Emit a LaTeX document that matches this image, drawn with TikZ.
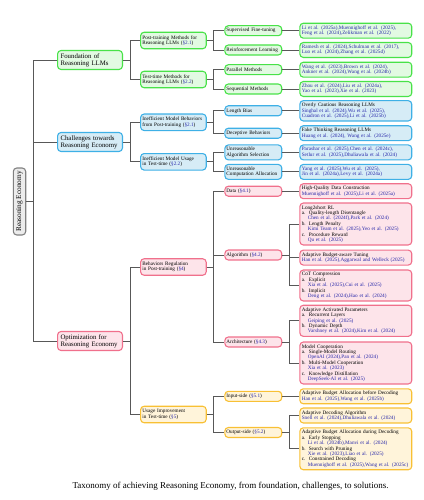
\documentclass[tikz,border=0pt]{standalone}
\usepackage{fontspec}
\setmainfont{Liberation Serif}
\usepackage[x11names]{xcolor}
\usepackage{tikz}

\definecolor{ecogreen}{RGB}{72,226,72}
\definecolor{ecogreenfill}{RGB}{226,250,226}
\definecolor{ecoblue}{RGB}{62,176,230}
\definecolor{ecobluefill}{RGB}{214,236,246}
\definecolor{ecored}{RGB}{240,112,140}
\definecolor{ecoredfill}{RGB}{253,228,234}
\definecolor{ecoyellow}{RGB}{248,192,52}
\definecolor{ecoyellowfill}{RGB}{255,244,218}
\definecolor{rootgray}{RGB}{128,128,128}
\definecolor{rootfill}{RGB}{236,236,236}
\definecolor{linkgray}{RGB}{88,88,88}
\definecolor{citeblue}{RGB}{40,40,170}

\newcommand{\bluecite}[1]{\textcolor{citeblue}{#1}}
\newcommand{\secnum}[1]{(\textcolor{citeblue}{§#1})}
\newcommand{\itm}[1]{\makebox[7pt][l]{#1}}
\newcommand{\ind}{\hspace*{6pt}}

\tikzset{
  tbox/.style={draw, rounded corners=3.5pt, line width=1.1pt, align=left, inner ysep=2.4pt},
  tinytext/.style={font=\fontsize{5.2}{5.4}\selectfont},
  lvlone/.style={tbox, text width=58.9pt, inner xsep=3pt, minimum height=19pt, font=\fontsize{6.8}{7}\selectfont},
  lvltwo/.style={tbox, tinytext, text width=62pt, inner xsep=1.8pt, minimum height=16.5pt},
  lvlthree/.style={tbox, tinytext, text width=53.7pt, inner xsep=1.6pt, minimum height=10pt},
  leaf/.style={tbox, tinytext, text width=107.9pt, inner xsep=2pt},
  found/.style={draw=ecogreen, fill=ecogreenfill},
  chall/.style={draw=ecoblue, fill=ecobluefill},
  optim/.style={draw=ecored, fill=ecoredfill},
  usage/.style={draw=ecoyellow, fill=ecoyellowfill},
  link/.style={draw=linkgray, line width=0.9pt},
}

\begin{document}
\begin{tikzpicture}[x=1pt,y=-1pt]
  \useasboundingbox (0,0) rectangle (423,500);

  % root
  \node[tbox, draw=rootgray, fill=rootfill, rotate=90, minimum width=67pt, minimum height=12.4pt, inner sep=1pt, font=\fontsize{7.3}{7.3}\selectfont] (R) at (19.5,201.5) {Reasoning Economy};

  % first level
  \node[lvlone, found] (A) at (90,60) {Foundation of\\ Reasoning LLMs};
  \node[lvlone, chall] (B) at (90,142) {Challenges towards\\ Reasoning Economy};
  \node[lvlone, optim] (C) at (90,341) {Optimization for\\ Reasoning Economy};

  % second level
  \node[lvltwo, found] (A1) at (173.4,40.5) {Post-training Methods for\\ Reasoning LLMs \secnum{2.1}};
  \node[lvltwo, found] (A2) at (173.4,79.5) {Test-time Methods for\\ Reasoning LLMs \secnum{2.2}};
  \node[lvltwo, chall] (B1) at (173.4,122.3) {Inefficient Model Behaviors\\ from Post-training \secnum{2.1}};
  \node[lvltwo, chall] (B2) at (173.4,161.8) {Inefficient Model Usage\\ in Test-time \secnum{2.2}};
  \node[lvltwo, optim] (C1) at (173.4,267) {Behaviors Regulation\\ in Post-training \secnum{4}};
  \node[lvltwo, usage] (C2) at (173.4,414.5) {Usage Improvement\\ in Test-time \secnum{5}};

  % third level
  \node[lvlthree, found] (A11) at (253.3,30.7) {Supervised Fine-tuning};
  \node[lvlthree, found] (A12) at (253.3,50) {Reinforcement Learning};
  \node[lvlthree, found] (A21) at (253.3,69.7) {Parallel Methods};
  \node[lvlthree, found] (A22) at (253.3,89) {Sequential Methods};
  \node[lvlthree, chall] (B11) at (253.3,110.8) {Length Bias};
  \node[lvlthree, chall] (B12) at (253.3,133.2) {Deceptive Behaviors};
  \node[lvlthree, chall] (B21) at (253.3,152.4) {Unreasonable\\ Algorithm Selection};
  \node[lvlthree, chall] (B22) at (253.3,171.9) {Unreasonable\\ Computation Allocation};
  \node[lvlthree, optim] (C11) at (253.3,191.2) {Data \secnum{4.1}};
  \node[lvlthree, optim] (C12) at (253.3,255) {Algorithm \secnum{4.2}};
  \node[lvlthree, optim] (C13) at (253.3,342) {Architecture \secnum{4.3}};
  \node[lvlthree, usage] (C21) at (253.3,396.3) {Input-side \secnum{5.1}};
  \node[lvlthree, usage] (C22) at (253.3,432.5) {Output-side \secnum{5.2}};

  % leaves
  \node[leaf, found] (A11c) at (355.8,30.7) {\bluecite{Li et al. (2025a),Muennighoff et al. (2025),\\ Feng et al. (2024),Zelikman et al. (2022)}};
  \node[leaf, found] (A12c) at (355.8,50) {\bluecite{Ramesh et al. (2024),Schulman et al. (2017),\\ Luo et al. (2024),Zhang et al. (2025d)}};
  \node[leaf, found] (A21c) at (355.8,69.7) {\bluecite{Wang et al. (2023),Brown et al. (2024),\\ Ankner et al. (2024),Wang et al. (2024b)}};
  \node[leaf, found] (A22c) at (355.8,89) {\bluecite{Zhou et al. (2024),Liu et al. (2024a),\\ Yao et al. (2023),Xie et al. (2023)}};
  \node[leaf, chall] (B11c) at (355.8,110.8) {Overly Cautious Reasoning LLMs\\ \bluecite{Singhal et al. (2024),Wu et al. (2025),\\ Cuadron et al. (2025),Li et al. (2025b)}};
  \node[leaf, chall] (B12c) at (355.8,133.2) {Fake Thinking Reasoning LLMs\\ \bluecite{Huang et al. (2024), Wang et al. (2025e)}};
  \node[leaf, chall] (B21c) at (355.8,152.4) {\bluecite{Parashar et al. (2025),Chen et al. (2024c),\\ Setlur et al. (2025),Dhuliawala et al. (2024)}};
  \node[leaf, chall] (B22c) at (355.8,171.9) {\bluecite{Yang et al. (2025),Wu et al. (2025),\\ Jin et al. (2024a),Levy et al. (2024a)}};
  \node[leaf, optim] (C11c) at (355.8,191.2) {High-Quality Data Construction\\ \bluecite{Muennighoff et al. (2025),Li et al. (2025a)}};
  \node[leaf, optim] (C12a) at (355.8,224) {Long2short RL\\
    \itm{a.}Quality-length Disentangle\\ \ind\bluecite{Chen et al. (2024f),Park et al. (2024)}\\
    \itm{b.}Length Penalty\\ \ind\bluecite{Kimi Team et al. (2025),Yeo et al. (2025)}\\
    \itm{c.}Procedure Reward\\ \ind\bluecite{Qu et al. (2025)}};
  \node[leaf, optim] (C12b) at (355.8,257.6) {Adaptive Budget-aware Tuning\\ \bluecite{Han et al. (2025),Aggarwal and Welleck (2025)}};
  \node[leaf, optim] (C12c) at (355.8,285.5) {CoT Compression\\
    \itm{a.}Explicit\\ \ind\bluecite{Xia et al. (2025),Cui et al. (2025)}\\
    \itm{b.}Implicit\\ \ind\bluecite{Deng et al. (2024),Hao et al. (2024)}};
  \node[leaf, optim] (C13a) at (355.8,320.8) {Adaptive Activated Parameters\\
    \itm{a.}Recurrent Layers\\ \ind\bluecite{Geiping et al. (2025)}\\
    \itm{b.}Dynamic Depth\\ \ind\bluecite{Varshney et al. (2024),Kim et al. (2024)}};
  \node[leaf, optim] (C13b) at (355.8,363) {Model Cooperation\\
    \itm{a.}Single-Model Routing\\ \ind\bluecite{OpenAI (2024),Pan et al. (2024)}\\
    \itm{b.}Multi-Model Cooperation\\ \ind\bluecite{Xia et al. (2023)}\\
    \itm{c.}Knowledge Distillation\\ \ind\bluecite{DeepSeek-AI et al. (2025)}};
  \node[leaf, usage] (C21c) at (355.8,396.3) {Adaptive Budget Allocation before Decoding\\ \bluecite{Han et al. (2025),Wang et al. (2025b)}};
  \node[leaf, usage] (C22a) at (355.8,415.5) {Adaptive Decoding Algorithm\\ \bluecite{Snell et al. (2024),Dhuliawala et al. (2024)}};
  \node[leaf, usage] (C22b) at (355.8,448.8) {Adaptive Budget Allocation during Decoding\\
    \itm{a.}Early Stopping\\ \ind\bluecite{Li et al. (2024b),Manvi et al. (2024)}\\
    \itm{b.}Search with Pruning\\ \ind\bluecite{Xie et al. (2023),Liao et al. (2025)}\\
    \itm{c.}Constrained Decoding\\ \ind\bluecite{Muennighoff et al. (2025),Wang et al. (2025c)}};

  % caption
  \node[font=\fontsize{9}{10}\selectfont] (cap) at (230.5,486) {Taxonomy of achieving Reasoning Economy, from foundation, challenges, to solutions.};

  % connectors
  \draw[link] (R.south) -- ++(7,0) |- (A.west);
  \draw[link] (R.south) -- ++(7,0) |- (B.west);
  \draw[link] (R.south) -- ++(7,0) |- (C.west);

  \draw[link] (A.east) -- ++(7,0) |- (A1.west);
  \draw[link] (A.east) -- ++(7,0) |- (A2.west);
  \draw[link] (B.east) -- ++(7,0) |- (B1.west);
  \draw[link] (B.east) -- ++(7,0) |- (B2.west);
  \draw[link] (C.east) -- ++(7,0) |- (C1.west);
  \draw[link] (C.east) -- ++(7,0) |- (C2.west);

  \draw[link] (A1.east) -- ++(7,0) |- (A11.west);
  \draw[link] (A1.east) -- ++(7,0) |- (A12.west);
  \draw[link] (A2.east) -- ++(7,0) |- (A21.west);
  \draw[link] (A2.east) -- ++(7,0) |- (A22.west);
  \draw[link] (B1.east) -- ++(7,0) |- (B11.west);
  \draw[link] (B1.east) -- ++(7,0) |- (B12.west);
  \draw[link] (B2.east) -- ++(7,0) |- (B21.west);
  \draw[link] (B2.east) -- ++(7,0) |- (B22.west);
  \draw[link] (C1.east) -- ++(7,0) |- (C11.west);
  \draw[link] (C1.east) -- ++(7,0) |- (C12.west);
  \draw[link] (C1.east) -- ++(7,0) |- (C13.west);
  \draw[link] (C2.east) -- ++(7,0) |- (C21.west);
  \draw[link] (C2.east) -- ++(7,0) |- (C22.west);

  \draw[link] (A11.east) -- (A11c.west);
  \draw[link] (A12.east) -- (A12c.west);
  \draw[link] (A21.east) -- (A21c.west);
  \draw[link] (A22.east) -- (A22c.west);
  \draw[link] (B11.east) -- (B11c.west);
  \draw[link] (B12.east) -- (B12c.west);
  \draw[link] (B21.east) -- (B21c.west);
  \draw[link] (B22.east) -- (B22c.west);
  \draw[link] (C11.east) -- (C11c.west);
  \draw[link] (C12.east) -- ++(7,0) |- (C12a.west);
  \draw[link] (C12.east) -- ++(7,0) |- (C12b.west);
  \draw[link] (C12.east) -- ++(7,0) |- (C12c.west);
  \draw[link] (C13.east) -- ++(7,0) |- (C13a.west);
  \draw[link] (C13.east) -- ++(7,0) |- (C13b.west);
  \draw[link] (C21.east) -- (C21c.west);
  \draw[link] (C22.east) -- ++(7,0) |- (C22a.west);
  \draw[link] (C22.east) -- ++(7,0) |- (C22b.west);
\end{tikzpicture}
\end{document}
